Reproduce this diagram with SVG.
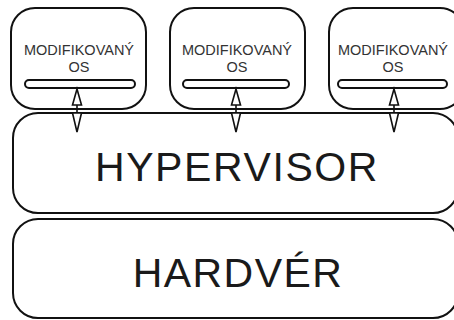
<svg xmlns="http://www.w3.org/2000/svg" width="454" height="320" viewBox="0 0 454 320">
  <style>
    .box { fill: #ffffff; stroke: #111111; stroke-width: 2; }
    .bar { fill: #ffffff; stroke: #111111; stroke-width: 2; }
    .small { font-family: "Liberation Sans", Arial, sans-serif; font-size: 14.5px; fill: #333333; text-anchor: middle; }
    .big { font-family: "Liberation Sans", Arial, sans-serif; font-size: 41px; fill: #1a1a1a; text-anchor: middle; }
    .arrow { fill: #ffffff; stroke: #111111; stroke-width: 1.6; stroke-linejoin: miter; }
    .shaft { stroke: #111111; stroke-width: 1.6; }
  </style>
  <rect width="454" height="320" fill="#ffffff"/>

  <!-- bottom layer -->
  <g id="hardver">
    <rect class="box" x="13" y="219" width="445" height="99" rx="25"/>
    <text class="big" x="238" y="287" letter-spacing="1.4">HARDVÉR</text>
  </g>

  <!-- middle layer -->
  <g id="hypervisor">
    <rect class="box" x="13" y="113" width="445" height="100" rx="25"/>
    <text class="big" x="237" y="181" letter-spacing="1.6">HYPERVISOR</text>
  </g>

  <!-- guest systems -->
  <g id="os1">
    <rect class="box" x="11" y="8" width="135" height="101" rx="24"/>
    <text class="small" x="79" y="55">MODIFIKOVANÝ</text>
    <text class="small" x="79" y="72">OS</text>
    <rect class="bar" x="25" y="80" width="110" height="8" rx="4"/>
  </g>
  <g id="os2">
    <rect class="box" x="170" y="8" width="135" height="101" rx="24"/>
    <text class="small" x="237" y="55">MODIFIKOVANÝ</text>
    <text class="small" x="237" y="72">OS</text>
    <rect class="bar" x="183" y="80" width="106" height="8" rx="4"/>
  </g>
  <g id="os3">
    <rect class="box" x="329" y="8" width="135" height="101" rx="24"/>
    <text class="small" x="393" y="55">MODIFIKOVANÝ</text>
    <text class="small" x="393" y="72">OS</text>
    <rect class="bar" x="338" y="80" width="109" height="8" rx="4"/>
  </g>

  <!-- two-way links between each guest and the hypervisor -->
  <g id="connectors">
    <g transform="translate(77,0)">
      <line class="shaft" x1="0" y1="105" x2="0" y2="113"/>
      <polygon class="arrow" points="0,89 4.5,105 -4.5,105"/>
      <polygon class="arrow" points="0,132 4.5,113 -4.5,113"/>
    </g>
    <g transform="translate(236,0)">
      <line class="shaft" x1="0" y1="105" x2="0" y2="113"/>
      <polygon class="arrow" points="0,89 4.5,105 -4.5,105"/>
      <polygon class="arrow" points="0,132 4.5,113 -4.5,113"/>
    </g>
    <g transform="translate(394,0)">
      <line class="shaft" x1="0" y1="105" x2="0" y2="113"/>
      <polygon class="arrow" points="0,89 4.5,105 -4.5,105"/>
      <polygon class="arrow" points="0,132 4.5,113 -4.5,113"/>
    </g>
  </g>
</svg>
